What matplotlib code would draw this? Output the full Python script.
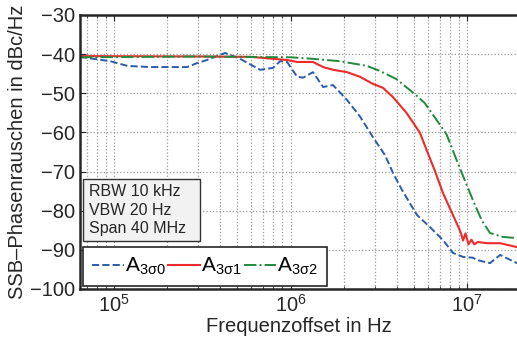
import matplotlib
matplotlib.use("Agg")
import matplotlib.pyplot as plt
from matplotlib.patches import Rectangle
import numpy as np

plt.rcParams['font.family'] = ['Liberation Sans', 'DejaVu Sans']
plt.rcParams['mathtext.fontset'] = 'custom'
plt.rcParams['mathtext.rm'] = 'Liberation Sans'
plt.rcParams['mathtext.it'] = 'Liberation Sans'
plt.rcParams['mathtext.bf'] = 'Liberation Sans:bold'

# A3s0 (blau, gestrichelt)
f_a0 = [6.4e4, 9.5e4, 1.19e5, 1.6e5, 2.59e5, 2.95e5, 3.36e5, 4.26e5, 5.18e5, 6.72e5,
        7.96e5, 8.73e5, 9.56e5, 1.09e6, 1.18e6, 1.34e6, 1.53e6, 1.74e6, 2.09e6, 2.48e6,
        2.93e6, 3.43e6, 3.81e6, 4.28e6, 4.88e6, 5.21e6, 6.17e6, 7.31e6, 8.34e6, 9.49e6,
        1.08e7, 1.14e7, 1.35e7, 1.54e7, 1.92e7]
p_a0 = [-40.7, -41.8, -43.0, -43.3, -43.3, -42.3, -41.5, -39.7, -41.2, -44.0,
        -43.5, -41.8, -42.0, -45.8, -46.0, -44.6, -48.4, -47.9, -51.7, -56.0,
        -61.2, -65.8, -70.4, -74.7, -79.0, -81.1, -84.2, -87.5, -90.8, -91.8,
        -92.0, -92.6, -93.4, -91.3, -93.4]

# A3s1 (rot)
f_a1 = [6.4e4, 3.0e5, 6.0e5, 9.56e5, 1.09e6, 1.34e6, 1.53e6, 1.74e6, 2.09e6, 2.48e6,
        2.93e6, 3.34e6, 3.81e6, 4.54e6, 5.21e6, 5.42e6, 6.0e6, 6.6e6, 7.31e6, 8.23e6,
        8.94e6, 9.2e6, 9.5e6, 9.8e6, 1.02e7, 1.06e7, 1.1e7, 1.15e7, 1.3e7, 1.54e7,
        1.92e7]
p_a1 = [-40.5, -40.6, -40.7, -41.5, -42.0, -42.0, -43.3, -44.0, -44.6, -45.8,
        -47.6, -48.6, -51.0, -55.0, -59.0, -60.2, -65.3, -70.0, -75.5, -80.6,
        -84.2, -85.5, -87.6, -85.8, -88.6, -87.4, -88.6, -88.0, -88.3, -88.3,
        -89.3]

# A3s2 (gruen, strichpunkt)
f_a2 = [6.4e4, 3.0e5, 1.0e6, 1.34e6, 1.9e6, 2.71e6, 3.21e6, 3.99e6, 5.21e6, 5.76e6,
        6.72e6, 7.66e6, 8.72e6, 9.71e6, 1.08e7, 1.21e7, 1.35e7, 1.6e7, 1.92e7]
p_a2 = [-40.8, -40.6, -40.8, -41.2, -41.8, -43.0, -44.3, -46.4, -50.7, -52.5,
        -56.8, -60.5, -67.0, -72.2, -77.3, -82.4, -85.7, -86.7, -87.0]

labels = [r'$\mathrm{A}_{3\sigma0}$', r'$\mathrm{A}_{3\sigma1}$', r'$\mathrm{A}_{3\sigma2}$']

fig = plt.figure(figsize=(5.17, 3.43), dpi=100)
ax = fig.add_axes([80/517, 54/343, 1 - 80/517, 274/343])

ax.semilogx(f_a0, p_a0, '--', color='#2a5caa', lw=1.4, label=labels[0])
ax.semilogx(f_a1, p_a1, '-', color='#ee2a2a', lw=1.5, label=labels[1])
ax.semilogx(f_a2, p_a2, '-.', color='#1e8a3c', lw=1.4, label=labels[2])

ax.set_xlim(6.41e4, 1.92e7)
ax.set_ylim(-100, -30)
ax.set_yticks(np.arange(-100, -29, 10))

ax.grid(True, which='major', axis='both', ls=':', color='#999999', lw=0.9)
ax.grid(True, which='minor', axis='x', ls=':', color='#999999', lw=0.9)

ax.tick_params(axis='both', which='both', direction='in', top=True, labelsize=14.5, colors='#262626')
ax.tick_params(axis='y', which='minor', left=False)
ax.tick_params(which='major', length=4)
ax.tick_params(which='minor', length=2.5)
for s in ['left', 'top', 'bottom']:
    ax.spines[s].set_linewidth(1.8)
    ax.spines[s].set_color('#262626')
ax.spines['right'].set_visible(False)

ax.set_xlabel('Frequenzoffset in Hz', fontsize=14.5, color='#262626', labelpad=1)
ax.set_ylabel('SSB\u2013Phasenrauschen in dBc/Hz', fontsize=14.5, color='#262626', labelpad=2)

# Infobox mit Messparametern
box = Rectangle((0.007, 0.175), 0.268, 0.226, transform=ax.transAxes,
                facecolor='#f2f2f2', edgecolor='#333333', lw=1, zorder=4)
ax.add_patch(box)
ax.text(0.021, 0.175 + 0.113, 'RBW 10 kHz\nVBW 20 Hz\nSpan 40 MHz', transform=ax.transAxes,
        fontsize=11.5, color='#262626', va='center', ha='left', linespacing=1.32, zorder=5)

leg = ax.legend(loc='lower left', bbox_to_anchor=(0.007, 0.011), borderaxespad=0,
                ncol=3, fontsize=15, handlelength=1.55, handletextpad=0.05, columnspacing=0.1,
                fancybox=False, framealpha=1, borderpad=0.42)
leg.get_frame().set_edgecolor('#262626')
leg.get_frame().set_linewidth(1.2)

fig.savefig('out.png', dpi=100)
